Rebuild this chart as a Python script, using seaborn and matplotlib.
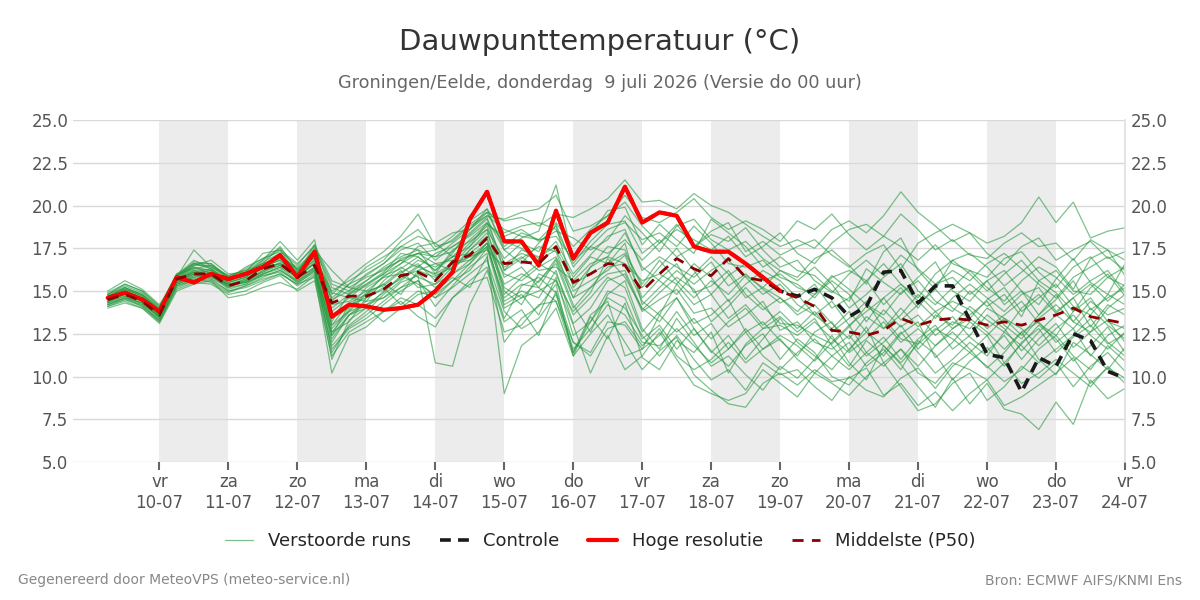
import numpy as np
import pandas as pd
import matplotlib
matplotlib.use('Agg')
import matplotlib.pyplot as plt
from matplotlib.lines import Line2D
import seaborn as sns

sns.set_theme(style='white')
plt.rcParams['font.family'] = ['DejaVu Sans']

# ── data (6-hourly, 9 Jul 06:00 -> 24 Jul 00:00) ─────────────────
START = '2026-07-09 06:00'
N_STEPS = 60

hoge_resolutie = [14.6, 14.9, 14.5, 13.8, 15.8, 15.5, 16.0, 15.7, 16.0, 16.4,
                  17.1, 15.8, 17.3, 13.5, 14.2, 14.1, 13.9, 14.0, 14.2, 15.0,
                  16.1, 19.2, 20.8, 17.9, 17.9, 16.5, 19.7, 16.9, 18.4, 19.0,
                  21.1, 19.0, 19.6, 19.4, 17.6, 17.3, 17.3, 16.6, 15.8, 15.0]

controle = [14.6, 14.9, 14.5, 13.8, 15.8, 15.5, 16.0, 15.7, 16.0, 16.4,
            17.1, 15.8, 17.3, 13.5, 14.2, 14.1, 13.9, 14.0, 14.2, 15.0,
            16.1, 19.2, 20.8, 17.9, 17.9, 16.5, 19.7, 16.9, 18.4, 19.0,
            21.1, 19.0, 19.6, 19.4, 17.6, 17.3, 17.3, 16.6, 15.8, 15.0,
            14.7, 15.1, 14.6, 13.5, 14.1, 16.1, 16.2, 14.3, 15.3, 15.3,
            13.3, 11.3, 11.1, 9.1, 11.1, 10.6, 12.5, 12.1, 10.3, 9.9]

p50 = [14.5, 14.8, 14.4, 13.6, 15.7, 16.0, 16.0, 15.3, 15.6, 16.3,
       16.6, 15.8, 16.5, 14.3, 14.7, 14.7, 15.1, 15.9, 16.1, 15.6,
       16.7, 17.1, 18.1, 16.6, 16.7, 16.6, 17.6, 15.5, 16.0, 16.6,
       16.5, 15.0, 16.0, 16.9, 16.3, 15.9, 16.9, 15.8, 15.6, 15.0,
       14.6, 14.1, 12.7, 12.6, 12.4, 12.7, 13.4, 13.0, 13.3, 13.4,
       13.3, 13.0, 13.2, 13.0, 13.3, 13.6, 14.0, 13.5, 13.3, 13.1]

m01 = [14.8, 15.3, 14.9, 14.0, 15.9, 16.8, 16.3, 15.7, 16.4, 16.9,
       17.5, 16.2, 17.0, 15.0, 15.6, 16.2, 16.8, 17.9, 18.6, 17.4,
       18.0, 18.9, 19.6, 19.1, 19.3, 18.8, 19.5, 19.3, 19.8, 20.4,
       21.5, 20.2, 20.3, 19.8, 20.7, 20.0, 19.6, 18.9, 18.2, 17.6,
       18.0, 17.5, 18.6, 19.1, 18.4, 19.4, 20.8, 19.6, 18.8, 17.9,
       18.4, 17.8, 18.2, 19.0, 20.5, 19.0, 20.2, 18.1, 18.5, 18.7]
m02 = [14.2, 14.6, 14.1, 13.3, 15.2, 15.6, 15.7, 15.0, 15.2, 15.6,
       16.0, 15.4, 16.2, 11.6, 12.8, 13.4, 14.2, 15.0, 15.6, 14.1,
       15.3, 16.4, 17.2, 9.0, 11.8, 12.6, 14.0, 11.2, 12.5, 13.6,
       12.0, 10.4, 11.5, 12.3, 10.1, 9.2, 8.4, 8.2, 9.6, 10.2,
       9.5, 10.4, 9.7, 9.9, 10.5, 8.9, 9.6, 8.3, 9.1, 8.0,
       9.0, 9.8, 8.3, 8.8, 9.5, 10.2, 11.1, 9.6, 10.5, 9.9]
m03 = [14.6, 15.0, 14.6, 13.8, 15.8, 17.4, 16.4, 15.8, 16.0, 16.8,
       17.9, 16.8, 18.0, 13.2, 14.9, 15.4, 16.1, 17.2, 17.0, 16.2,
       17.2, 18.6, 19.8, 17.4, 18.1, 18.5, 21.2, 16.8, 18.3, 19.7,
       19.9, 17.7, 18.9, 18.0, 17.2, 19.2, 18.4, 17.6, 16.4, 17.0,
       16.2, 15.9, 15.0, 14.4, 16.3, 15.5, 14.8, 15.8, 16.7, 15.0,
       14.4, 15.6, 16.2, 15.0, 14.2, 15.7, 16.9, 15.5, 14.8, 16.6]
m04 = [14.0, 14.3, 14.0, 13.1, 15.0, 15.4, 15.6, 14.6, 14.8, 15.2,
       15.5, 15.1, 15.9, 10.2, 12.4, 12.9, 13.8, 14.4, 13.5, 12.9,
       14.6, 15.6, 16.4, 13.4, 15.3, 15.8, 14.9, 11.4, 13.2, 15.0,
       14.6, 12.2, 13.0, 11.6, 12.8, 11.5, 10.6, 11.8, 12.5, 11.0,
       12.2, 11.4, 10.0, 9.5, 10.8, 11.6, 10.4, 12.1, 11.3, 9.8,
       10.9, 11.7, 10.6, 12.0, 12.8, 11.4, 12.3, 13.0, 11.9, 12.5]
m05 = [15.0, 15.6, 15.1, 14.2, 15.7, 16.5, 16.8, 16.0, 16.1, 17.2,
       17.4, 16.0, 17.7, 15.6, 15.2, 15.0, 15.8, 16.6, 17.6, 17.8,
       17.0, 18.0, 18.9, 18.2, 18.6, 17.9, 18.5, 18.1, 17.4, 18.0,
       19.4, 18.4, 17.3, 18.8, 19.2, 18.0, 17.4, 17.9, 16.9, 16.2,
       15.8, 16.9, 17.4, 16.5, 15.4, 17.3, 18.1, 16.2, 15.1, 16.8,
       17.2, 16.4, 15.3, 16.1, 17.0, 16.4, 15.1, 16.9, 17.4, 15.9]
m06 = [14.4, 14.7, 14.3, 13.5, 15.5, 15.9, 15.8, 15.4, 15.5, 16.0,
       16.4, 15.6, 16.4, 12.0, 13.6, 14.2, 14.6, 15.2, 16.0, 15.2,
       16.0, 16.8, 17.6, 14.4, 15.0, 14.6, 16.2, 13.1, 14.0, 15.6,
       16.0, 13.8, 14.5, 15.1, 13.7, 14.0, 12.9, 13.6, 14.4, 12.7,
       13.2, 12.0, 11.6, 12.4, 11.2, 12.0, 13.0, 11.6, 12.7, 13.5,
       12.3, 11.5, 12.4, 11.0, 12.2, 13.1, 11.7, 12.6, 13.3, 12.0]
m07 = [14.3, 14.9, 14.4, 13.7, 15.4, 15.8, 16.1, 15.5, 15.8, 16.4,
       16.8, 15.9, 16.8, 12.8, 13.9, 14.9, 15.4, 14.8, 16.2, 16.6,
       16.2, 17.4, 18.4, 15.8, 16.4, 15.2, 16.8, 14.2, 12.6, 14.8,
       15.6, 12.8, 11.6, 13.4, 12.0, 10.6, 11.2, 10.1, 9.2, 10.6,
       9.9, 11.0, 12.4, 10.8, 9.8, 11.8, 10.7, 9.4, 8.2, 9.9,
       8.4, 9.6, 8.1, 7.8, 6.9, 8.5, 7.2, 9.8, 8.7, 9.3]
m08 = [14.7, 15.1, 14.7, 13.9, 16.0, 16.3, 16.5, 15.9, 16.2, 16.6,
       17.0, 16.4, 17.3, 14.6, 15.4, 15.9, 16.6, 17.4, 17.8, 16.8,
       17.6, 18.2, 19.0, 17.9, 17.5, 16.9, 17.9, 16.0, 17.1, 18.2,
       18.6, 16.2, 17.0, 16.4, 15.8, 16.7, 15.3, 16.0, 15.1, 14.3,
       14.8, 13.6, 14.4, 13.0, 13.8, 14.6, 13.3, 14.2, 15.1, 14.0,
       13.4, 14.5, 15.2, 13.8, 14.6, 15.4, 14.1, 13.6, 14.8, 14.2]
m09 = [14.1, 14.5, 14.2, 13.2, 15.3, 15.7, 15.5, 14.9, 15.3, 15.8,
       16.2, 15.5, 16.1, 11.0, 13.3, 14.0, 13.2, 14.0, 14.8, 15.0,
       15.8, 15.2, 17.0, 12.0, 13.4, 14.1, 15.4, 11.2, 13.5, 12.2,
       14.3, 11.1, 10.4, 12.1, 11.4, 12.6, 10.2, 11.9, 12.8, 13.5,
       12.6, 13.4, 11.8, 10.6, 12.1, 11.2, 12.5, 13.2, 11.1, 12.0,
       13.2, 12.4, 10.8, 11.9, 13.0, 12.2, 10.9, 11.8, 12.9, 11.4]
m10 = [14.9, 15.4, 15.0, 14.1, 15.9, 16.4, 16.2, 15.6, 16.0, 16.7,
       17.2, 16.1, 17.5, 15.2, 14.8, 15.6, 16.4, 17.0, 17.4, 16.0,
       17.4, 17.9, 18.6, 16.9, 17.8, 17.3, 18.9, 16.4, 17.6, 17.2,
       18.0, 16.8, 17.8, 18.9, 17.6, 18.5, 19.0, 17.3, 17.9, 17.1,
       17.6, 18.0, 17.1, 16.4, 17.2, 17.7, 16.3, 17.8, 18.4, 18.9,
       18.4, 17.2, 16.5, 17.6, 18.1, 16.8, 17.4, 17.9, 16.9, 17.3]
m11 = [14.5, 14.9, 14.5, 13.6, 15.6, 16.1, 16.0, 15.4, 15.7, 16.2,
       16.5, 15.8, 16.6, 13.8, 14.6, 14.4, 15.6, 16.4, 15.8, 15.4,
       16.4, 17.0, 17.8, 16.0, 15.6, 16.4, 17.0, 15.0, 15.6, 16.2,
       17.1, 14.6, 15.7, 16.6, 14.9, 15.3, 16.2, 14.8, 13.9, 14.6,
       13.6, 14.2, 13.1, 12.2, 13.5, 12.8, 14.0, 12.9, 13.8, 14.4,
       13.9, 12.8, 13.6, 14.4, 13.1, 12.4, 13.8, 14.6, 13.2, 12.8]
m12 = [14.4, 14.8, 14.5, 13.7, 15.6, 16.2, 16.1, 15.2, 15.6, 16.1,
       16.7, 15.7, 16.4, 11.4, 13.0, 13.8, 14.8, 15.6, 16.4, 16.0,
       16.6, 17.6, 18.6, 15.0, 14.2, 16.0, 15.6, 13.8, 14.9, 16.9,
       15.8, 14.0, 13.2, 14.6, 13.1, 13.6, 14.5, 12.6, 13.2, 12.1,
       11.2, 12.6, 13.2, 11.5, 12.9, 10.8, 11.6, 10.6, 11.8, 12.6,
       11.6, 10.5, 11.4, 12.6, 11.0, 10.1, 12.0, 11.3, 10.4, 11.7]
m13 = [14.6, 15.2, 14.8, 14.0, 15.8, 16.6, 16.3, 15.6, 15.9, 16.5,
       17.1, 16.0, 17.1, 14.0, 14.8, 15.3, 16.0, 16.9, 17.2, 17.0,
       17.3, 18.4, 19.3, 16.2, 16.9, 17.6, 17.3, 14.6, 16.4, 17.6,
       17.4, 15.2, 16.4, 17.5, 16.2, 14.8, 15.9, 16.6, 15.6, 16.0,
       15.2, 14.8, 15.9, 15.1, 14.2, 13.6, 14.9, 15.6, 14.4, 13.8,
       15.0, 14.1, 14.8, 13.5, 15.6, 14.9, 13.8, 15.2, 16.0, 14.7]
m14 = [14.2, 14.6, 14.3, 13.4, 15.4, 15.7, 15.9, 15.1, 15.4, 15.9,
       16.1, 15.3, 16.0, 12.4, 13.6, 14.4, 14.6, 15.5, 15.9, 10.8,
       10.6, 14.2, 16.2, 13.2, 13.9, 12.4, 15.0, 12.0, 11.4, 13.2,
       13.0, 11.6, 12.4, 13.8, 12.4, 13.1, 11.6, 12.8, 11.6, 12.4,
       11.8, 10.9, 12.0, 13.0, 11.4, 12.3, 11.0, 12.2, 13.0, 11.6,
       12.4, 13.6, 12.8, 11.5, 12.6, 13.6, 12.8, 14.0, 13.0, 12.2]
m15 = [14.5, 14.8, 14.4, 13.5, 15.6, 16.0, 16.2, 15.3, 15.6, 16.4,
       16.6, 16.0, 16.6, 13.4, 14.0, 15.2, 15.8, 16.0, 16.8, 16.4,
       17.0, 17.2, 18.0, 15.4, 16.0, 15.5, 16.9, 14.6, 15.2, 16.0,
       16.2, 13.9, 14.9, 15.8, 15.1, 13.2, 14.1, 15.2, 14.1, 13.1,
       13.0, 12.4, 11.9, 12.9, 14.1, 13.4, 12.2, 11.9, 13.6, 13.0,
       14.1, 13.3, 12.6, 14.0, 14.8, 13.7, 14.6, 12.9, 14.2, 13.6]
m16 = [14.3, 14.7, 14.2, 13.4, 15.5, 15.8, 15.9, 15.2, 15.4, 16.0,
       16.3, 15.5, 16.3, 12.2, 13.6, 14.0, 15.0, 15.8, 16.2, 15.8,
       16.6, 16.8, 17.8, 14.2, 14.8, 13.6, 15.8, 12.4, 13.2, 14.6,
       14.0, 12.4, 11.2, 12.4, 11.0, 9.8, 10.4, 9.2, 10.8, 10.1,
       10.4, 9.4, 8.6, 10.0, 9.2, 8.8, 9.9, 10.5, 9.3, 10.6,
       11.4, 10.6, 9.7, 10.4, 11.6, 12.4, 11.2, 10.4, 11.8, 10.9]
m17 = [14.8, 15.2, 14.8, 13.9, 15.8, 16.7, 16.6, 15.8, 16.3, 16.9,
       17.3, 16.5, 17.7, 14.8, 15.8, 16.6, 17.3, 18.2, 19.5, 17.6,
       17.9, 18.8, 19.4, 19.2, 19.6, 19.8, 20.6, 18.5, 18.8, 19.4,
       20.6, 19.3, 19.0, 19.6, 20.4, 19.3, 18.6, 19.1, 18.6, 17.9,
       19.1, 18.6, 19.5, 18.3, 17.4, 18.2, 17.6, 16.8, 17.7, 16.6,
       16.2, 15.8, 16.9, 17.3, 16.1, 15.2, 16.4, 17.0, 15.8, 15.3]
m18 = [14.6, 15.0, 14.6, 13.7, 15.7, 16.2, 15.9, 15.5, 15.8, 16.3,
       16.9, 16.3, 16.9, 14.2, 14.4, 15.0, 15.3, 16.1, 16.6, 15.6,
       16.6, 17.0, 17.4, 16.4, 17.0, 16.2, 16.4, 15.6, 16.6, 17.0,
       16.6, 15.6, 16.0, 15.4, 16.6, 15.8, 14.4, 15.4, 16.2, 15.6,
       14.6, 15.4, 14.0, 14.6, 15.6, 14.2, 15.2, 14.0, 15.4, 15.8,
       14.8, 15.6, 14.2, 15.0, 13.6, 14.5, 15.6, 13.9, 14.6, 15.2]
m19 = [14.4, 14.9, 14.5, 13.6, 15.6, 16.1, 16.0, 15.4, 15.5, 16.2,
       16.6, 15.7, 16.7, 12.6, 13.2, 14.6, 15.2, 14.2, 15.0, 14.6,
       15.6, 16.2, 17.5, 14.0, 14.6, 15.0, 15.6, 13.0, 10.2, 12.4,
       10.4, 11.2, 12.6, 11.0, 9.5, 9.0, 8.6, 9.0, 10.4, 9.6,
       8.8, 10.2, 9.6, 8.9, 10.0, 10.8, 9.4, 8.0, 8.4, 9.6,
       10.2, 8.6, 9.4, 10.6, 9.9, 10.8, 9.4, 10.6, 11.4, 10.3]
m20 = [14.5, 15.0, 14.6, 13.8, 15.7, 16.3, 16.2, 15.6, 16.0, 16.4,
       16.8, 15.9, 17.0, 13.0, 14.3, 14.8, 15.9, 16.3, 17.0, 16.2,
       17.0, 17.6, 19.0, 16.6, 17.2, 16.8, 17.4, 15.4, 16.0, 16.6,
       17.8, 14.2, 15.2, 16.2, 15.4, 16.2, 16.8, 15.8, 14.8, 15.4,
       14.2, 13.6, 12.8, 13.8, 12.6, 13.9, 12.9, 13.6, 12.4, 13.2,
       12.8, 14.0, 13.4, 12.4, 13.6, 14.8, 13.2, 12.6, 14.0, 14.8]
m21 = [14.7, 15.2, 14.7, 13.9, 15.9, 16.6, 16.6, 15.8, 16.1, 16.6,
       17.6, 16.2, 17.4, 16.2, 15.2, 15.8, 16.2, 16.8, 17.2, 17.4,
       18.2, 19.1, 19.8, 18.4, 18.8, 19.0, 18.6, 16.6, 17.9, 18.9,
       19.1, 17.2, 18.0, 17.0, 17.6, 18.3, 17.9, 18.7, 17.4, 16.4,
       16.8, 15.6, 14.9, 16.0, 16.8, 15.9, 17.1, 16.3, 15.4, 16.2,
       15.6, 16.6, 17.2, 16.3, 15.4, 14.6, 15.8, 16.4, 17.0, 16.2]
m22 = [14.1, 14.4, 14.0, 13.2, 15.1, 15.5, 15.4, 14.8, 15.0, 15.5,
       15.9, 15.0, 15.6, 11.2, 12.6, 13.2, 13.8, 14.6, 14.2, 13.4,
       14.6, 15.4, 15.8, 12.6, 13.0, 14.2, 14.4, 12.0, 11.2, 12.8,
       13.2, 11.8, 12.8, 11.2, 10.4, 11.0, 12.0, 10.8, 11.6, 12.2,
       11.0, 10.2, 11.2, 12.0, 10.6, 11.4, 12.6, 11.4, 10.2, 11.0,
       12.0, 11.2, 12.6, 11.8, 10.8, 11.6, 12.4, 13.4, 12.0, 11.2]
m23 = [14.6, 15.1, 14.7, 13.8, 15.7, 16.4, 16.0, 15.6, 15.9, 16.4,
       16.6, 16.0, 17.0, 14.5, 15.0, 15.6, 16.3, 16.8, 16.4, 17.2,
       17.6, 18.3, 19.2, 17.4, 16.6, 17.8, 18.8, 15.2, 16.4, 17.0,
       18.4, 16.4, 15.6, 14.8, 16.0, 17.0, 16.0, 14.6, 15.2, 16.2,
       15.6, 16.4, 15.4, 14.0, 14.8, 15.8, 16.6, 15.0, 14.2, 15.2,
       16.2, 15.2, 14.4, 15.6, 16.4, 15.8, 14.8, 15.6, 16.2, 14.9]
m24 = [14.4, 14.8, 14.4, 13.5, 15.6, 16.0, 15.7, 15.3, 15.7, 16.1,
       16.5, 15.9, 16.6, 12.4, 14.2, 14.6, 15.1, 15.7, 16.5, 15.9,
       16.4, 17.4, 18.2, 14.8, 15.8, 16.6, 16.0, 13.6, 14.6, 15.8,
       15.2, 12.6, 13.8, 14.6, 12.8, 11.4, 12.4, 11.0, 12.2, 13.4,
       12.0, 11.2, 10.4, 11.6, 12.6, 11.8, 10.8, 11.9, 12.8, 12.2,
       11.4, 12.4, 13.4, 12.8, 11.8, 12.8, 13.6, 12.4, 11.6, 12.6]
m25 = [14.8, 15.4, 15.0, 14.1, 16.0, 16.6, 16.4, 15.9, 16.2, 16.8,
       17.4, 16.6, 17.6, 15.4, 15.0, 16.0, 16.6, 17.6, 18.2, 17.8,
       18.4, 18.6, 19.4, 18.6, 18.2, 18.0, 19.0, 17.6, 18.6, 19.4,
       20.2, 18.8, 17.8, 18.6, 18.0, 17.4, 18.2, 17.0, 17.6, 18.4,
       17.2, 16.6, 17.8, 18.6, 18.9, 18.2, 19.5, 18.6, 17.4, 18.0,
       17.1, 16.9, 17.8, 18.4, 17.6, 17.8, 16.8, 18.0, 17.4, 16.8]
m26 = [14.3, 14.6, 14.3, 13.5, 15.4, 15.9, 16.0, 15.3, 15.5, 15.9,
       16.2, 15.6, 16.2, 13.0, 13.8, 14.2, 14.9, 15.9, 15.4, 14.8,
       15.6, 16.6, 17.8, 15.2, 14.6, 15.6, 16.6, 14.0, 15.2, 16.4,
       16.6, 14.4, 13.6, 15.4, 14.2, 14.8, 13.4, 14.2, 13.0, 13.8,
       12.8, 13.8, 12.6, 13.4, 14.4, 12.8, 13.6, 14.8, 13.8, 12.8,
       13.6, 14.4, 13.0, 12.2, 13.4, 14.2, 13.2, 14.4, 13.6, 14.0]
m27 = [14.2, 14.5, 14.1, 13.3, 15.3, 15.6, 15.6, 15.0, 15.3, 15.7,
       16.0, 15.4, 15.8, 11.8, 12.9, 13.6, 14.4, 15.2, 15.6, 14.6,
       15.2, 16.0, 16.8, 13.8, 12.8, 13.4, 14.8, 11.6, 12.8, 14.2,
       13.6, 12.0, 11.8, 12.8, 11.8, 10.8, 11.6, 12.6, 11.2, 10.4,
       11.4, 12.2, 11.2, 10.4, 11.4, 10.6, 11.6, 10.2, 9.6, 10.8,
       10.4, 9.8, 10.8, 9.6, 10.2, 11.0, 10.2, 9.4, 10.6, 9.6]
m28 = [14.6, 15.0, 14.6, 13.7, 15.7, 16.1, 16.3, 15.5, 15.8, 16.5,
       16.9, 16.1, 16.8, 14.9, 14.6, 15.4, 16.0, 16.6, 17.2, 16.6,
       16.8, 17.8, 18.8, 16.2, 17.4, 17.0, 17.6, 15.8, 17.0, 16.6,
       17.2, 15.4, 16.8, 15.6, 14.6, 15.6, 14.8, 15.9, 15.2, 14.6,
       13.8, 14.8, 15.6, 14.8, 13.2, 14.6, 15.4, 14.4, 13.4, 14.6,
       15.4, 14.6, 13.8, 14.8, 15.2, 13.8, 14.6, 15.4, 14.4, 15.4]
m29 = [14.5, 14.9, 14.5, 13.6, 15.5, 16.0, 15.8, 15.4, 15.6, 16.0,
       16.4, 15.8, 16.3, 12.6, 13.8, 14.8, 15.4, 16.2, 15.2, 15.4,
       16.0, 16.6, 17.6, 14.6, 15.4, 15.2, 14.4, 11.4, 13.6, 14.4,
       11.2, 11.6, 13.6, 12.6, 13.4, 12.2, 13.2, 14.0, 12.8, 13.0,
       12.4, 13.2, 12.2, 11.4, 12.2, 13.2, 12.0, 12.8, 11.8, 12.8,
       13.4, 12.6, 11.6, 12.6, 13.2, 12.0, 12.8, 11.2, 12.4, 13.0]
m30 = [14.7, 15.1, 14.8, 13.9, 15.8, 16.5, 16.5, 15.7, 16.0, 16.6,
       17.0, 16.3, 17.2, 14.4, 15.4, 16.4, 17.0, 17.6, 17.4, 17.0,
       17.8, 18.6, 19.6, 17.6, 18.4, 18.0, 18.2, 16.8, 17.6, 18.6,
       19.0, 18.0, 18.4, 17.6, 18.8, 17.8, 16.6, 16.4, 16.8, 15.8,
       15.4, 14.6, 15.8, 16.2, 15.6, 16.6, 15.4, 14.6, 16.0, 16.8,
       16.0, 15.0, 16.0, 16.8, 15.6, 16.2, 15.0, 14.8, 15.8, 16.4]

members = [m01, m02, m03, m04, m05, m06, m07, m08, m09, m10,
           m11, m12, m13, m14, m15, m16, m17, m18, m19, m20,
           m21, m22, m23, m24, m25, m26, m27, m28, m29, m30]

DAGEN = ['ma', 'di', 'wo', 'do', 'vr', 'za', 'zo']

# ── build frames ──────────────────────────────────────────────
times = pd.date_range(START, periods=N_STEPS, freq='6h')
ens = pd.concat([pd.DataFrame({'tijd': times, 'waarde': m, 'run': k})
                 for k, m in enumerate(members)], ignore_index=True)
df_ctrl = pd.DataFrame({'tijd': times, 'waarde': controle})
df_hres = pd.DataFrame({'tijd': times[:len(hoge_resolutie)], 'waarde': hoge_resolutie})
df_p50 = pd.DataFrame({'tijd': times, 'waarde': p50})

GREEN = '#27993f'

fig = plt.figure(figsize=(12, 6), dpi=100)
ax = fig.add_axes([0.061, 0.23, 0.8765, 0.57])

# afwisselende dagbanden
day0 = pd.Timestamp('2026-07-10')
for d in range(0, 14, 2):
    ax.axvspan(day0 + pd.Timedelta(days=d), day0 + pd.Timedelta(days=d + 1),
               color='#ececec', lw=0, zorder=0)

sns.lineplot(data=ens, x='tijd', y='waarde', units='run', estimator=None,
             color=GREEN, lw=0.9, alpha=0.6, ax=ax, zorder=2)
sns.lineplot(data=df_ctrl, x='tijd', y='waarde', color='#1a1a1a', lw=2.6,
             ax=ax, zorder=3)
ax.lines[-1].set_linestyle((0, (3, 2)))
sns.lineplot(data=df_hres, x='tijd', y='waarde', color='#ff0000', lw=3,
             ax=ax, zorder=4)
sns.lineplot(data=df_p50, x='tijd', y='waarde', color='#8b0000', lw=2,
             ax=ax, zorder=5)
ax.lines[-1].set_linestyle((0, (4, 3)))

ax.set_xlim(pd.Timestamp('2026-07-08 18:00'), pd.Timestamp('2026-07-24 00:00'))
ax.set_ylim(5, 25)
ax.set_yticks(np.arange(5, 25.1, 2.5))
ax.yaxis.set_major_formatter(matplotlib.ticker.FormatStrFormatter('%.1f'))
ax.grid(axis='y', color='#d9d9d9', lw=1)
ax.grid(axis='x', visible=False)
ax.set_axisbelow(True)
ax.set_xlabel('')
ax.set_ylabel('')

ticks = pd.date_range('2026-07-10', '2026-07-24', freq='D')
ax.set_xticks(ticks)
ax.set_xticklabels([f'{DAGEN[t.dayofweek]}\n{t:%d-%m}' for t in ticks])
ax.tick_params(axis='x', length=6, width=1.5, color='#666666', labelsize=12,
               labelcolor='#555555', bottom=True, pad=2)
ax.tick_params(axis='y', length=0, labelsize=12, labelcolor='#555555')

for s in ['left', 'top', 'bottom']:
    ax.spines[s].set_visible(False)
ax.spines['right'].set_color('#e0e0e0')

ax2 = ax.twinx()
ax2.set_ylim(5, 25)
ax2.set_yticks(np.arange(5, 25.1, 2.5))
ax2.yaxis.set_major_formatter(matplotlib.ticker.FormatStrFormatter('%.1f'))
ax2.tick_params(axis='y', length=0, labelsize=12, labelcolor='#555555', pad=4)
for s in ax2.spines.values():
    s.set_visible(False)
ax2.grid(False)

fig.text(0.5, 0.93, 'Dauwpunttemperatuur (°C)', ha='center', va='center',
         fontsize=21, color='#333333')
fig.text(0.5, 0.861, 'Groningen/Eelde, donderdag  9 juli 2026 (Versie do 00 uur)',
         ha='center', va='center', fontsize=12.7, color='#666666')

handles = [Line2D([], [], color=GREEN, lw=0.9, alpha=0.6),
           Line2D([], [], color='#1a1a1a', lw=2.6, ls=(0, (3, 2))),
           Line2D([], [], color='#ff0000', lw=3),
           Line2D([], [], color='#8b0000', lw=2, ls=(0, (4, 3)))]
fig.legend(handles, ['Verstoorde runs', 'Controle', 'Hoge resolutie', 'Middelste (P50)'],
           loc='center', bbox_to_anchor=(0.5, 0.098), ncol=4, frameon=False,
           fontsize=13, handlelength=1.6, columnspacing=1.6, handletextpad=0.8)

fig.text(0.015, 0.033, 'Gegenereerd door MeteoVPS (meteo-service.nl)', ha='left',
         va='center', fontsize=10, color='#888888')
fig.text(0.985, 0.033, 'Bron: ECMWF AIFS/KNMI Ens', ha='right', va='center',
         fontsize=10, color='#888888')

fig.savefig('out.png', dpi=100)
